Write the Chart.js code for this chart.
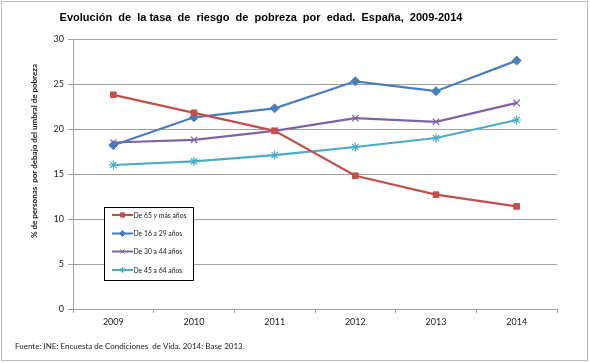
<!DOCTYPE html>
<html>
<head>
<meta charset="utf-8">
<script src="https://cdn.jsdelivr.net/npm/chart.js@4.4.0/dist/chart.umd.min.js"></script>
<style>
  html, body { margin: 0; padding: 0; background: #fff; }
  #wrap { width: 590px; height: 363px; position: relative; }
</style>
</head>
<body>
<div id="wrap"><canvas id="povertyChart" width="590" height="363"></canvas></div>
<script>
// datos
const years = ['2009', '2010', '2011', '2012', '2013', '2014'];
const seriesNames = ['De 65 y más años', 'De 16 a 29 años', 'De 30 a 44 años', 'De 45 a 64 años'];
const mayores65 = [23.8, 21.8, 19.8, 14.8, 12.7, 11.4];
const de16a29 = [18.2, 21.3, 22.3, 25.3, 24.2, 27.6];
const de30a44 = [18.5, 18.8, 19.8, 21.2, 20.8, 22.9];
const de45a64 = [16.0, 16.4, 17.1, 18.0, 19.0, 21.0];
const yTicks = [0, 5, 10, 15, 20, 25, 30];

const titleText = 'Evolución  de  la tasa  de  riesgo  de  pobreza  por  edad.  España,  2009-2014';
const yTitleText = '% de personas  por debajo del umbral de pobreza';
const sourceText = 'Fuente: INE: Encuesta de Condiciones  de Vida. 2014: Base 2013.';

const colors = ['#C0504D', '#4A7EBB', '#8064A2', '#4BACC6'];
const styles = ['rect', 'rectRot', 'crossRot', 'star'];
const values = [mayores65, de16a29, de30a44, de45a64];

const datasets = values.map((v, i) => ({
  label: seriesNames[i],
  data: v,
  borderColor: colors[i],
  backgroundColor: colors[i],
  borderWidth: 2.25,
  pointStyle: styles[i],
  pointRadius: i === 0 ? 4 : 4.5,
  pointBorderWidth: i >= 2 ? 1.2 : 1,
  pointHoverRadius: 4,
  tension: 0
}));

// fondo, borde exterior, titulo, titulo del eje y fuente
const decorations = {
  id: 'decorations',
  beforeDraw(chart) {
    const c = chart.ctx;
    c.save();
    c.fillStyle = '#fff';
    c.fillRect(0, 0, chart.width, chart.height);
    c.strokeStyle = '#bdbdbd';
    c.lineWidth = 1;
    c.strokeRect(1.5, 1.5, 586, 359);
    c.restore();
  },
  afterDraw(chart) {
    const c = chart.ctx;
    c.save();
    c.fillStyle = '#000';
    c.textAlign = 'center';
    c.textBaseline = 'middle';
    c.font = 'bold 11px "Liberation Sans", Arial, sans-serif';
    c.fillText(titleText, 261, 18);

    c.save();
    c.translate(34, 151);
    c.rotate(-Math.PI / 2);
    c.font = 'bold 8px Lato, "Open Sans", sans-serif';
    c.fillStyle = '#111';
    c.fillText(yTitleText, 0, 0);
    c.restore();

    c.textAlign = 'left';
    c.font = '8px Lato, "Open Sans", sans-serif';
    c.fillStyle = '#222';
    c.fillText(sourceText, 15, 346);

    // leyenda dentro del area de trazado
    const bx = 104.5, by = 207.5, bw = 89, bh = 73;
    c.fillStyle = '#fff';
    c.fillRect(bx, by, bw, bh);
    c.strokeStyle = '#000';
    c.lineWidth = 1;
    c.strokeRect(bx, by, bw, bh);
    const rows = [215, 233.5, 251.5, 270];
    chart.data.datasets.forEach((ds, i) => {
      const y = rows[i];
      c.strokeStyle = ds.borderColor;
      c.lineWidth = 2;
      c.beginPath();
      c.moveTo(112, y);
      c.lineTo(133, y);
      c.stroke();
      c.fillStyle = ds.backgroundColor;
      c.lineWidth = 1;
      if (Chart.helpers && Chart.helpers.drawPoint) {
        Chart.helpers.drawPoint(c, { pointStyle: ds.pointStyle, radius: 3, rotation: 0, borderWidth: 1 }, 122.5, y);
      }
      c.fillStyle = '#222';
      c.font = '6.8px Lato, "Open Sans", sans-serif';
      c.textAlign = 'left';
      c.fillText(ds.label, 133.5, y + 0.5);
    });
    c.restore();
  }
};

const ctx = document.getElementById('povertyChart').getContext('2d');
const povertyChart = new Chart(ctx, {
  type: 'line',
  data: { labels: years, datasets: datasets },
  options: {
    responsive: false,
    animation: false,
    devicePixelRatio: 1,
    layout: { padding: { top: 39, right: 33, bottom: 0, left: 0 } },
    plugins: {
      legend: { display: false },
      title: { display: false },
      tooltip: { enabled: false }
    },
    scales: {
      x: {
        offset: true,
        grid: {
          offset: true,
          drawOnChartArea: false,
          drawTicks: true,
          tickLength: 4,
          color: '#a0a0a0'
        },
        border: { color: '#a0a0a0', width: 1 },
        ticks: {
          color: '#222',
          font: { family: 'Lato, "Open Sans", sans-serif', size: 9 },
          padding: 4,
          maxRotation: 0
        },
        afterFit(scale) { scale.height = 54; }
      },
      y: {
        min: 0,
        max: 30,
        afterBuildTicks(scale) { scale.ticks = yTicks.map(v => ({ value: v })); },
        grid: {
          color: '#a0a0a0',
          tickLength: 5,
          drawTicks: true
        },
        border: { color: '#a0a0a0', width: 1 },
        ticks: {
          color: '#222',
          font: { family: 'Lato, "Open Sans", sans-serif', size: 9 },
          padding: 4
        },
        afterFit(scale) { scale.width = 73; }
      }
    }
  },
  plugins: [decorations]
});
</script>
</body>
</html>
